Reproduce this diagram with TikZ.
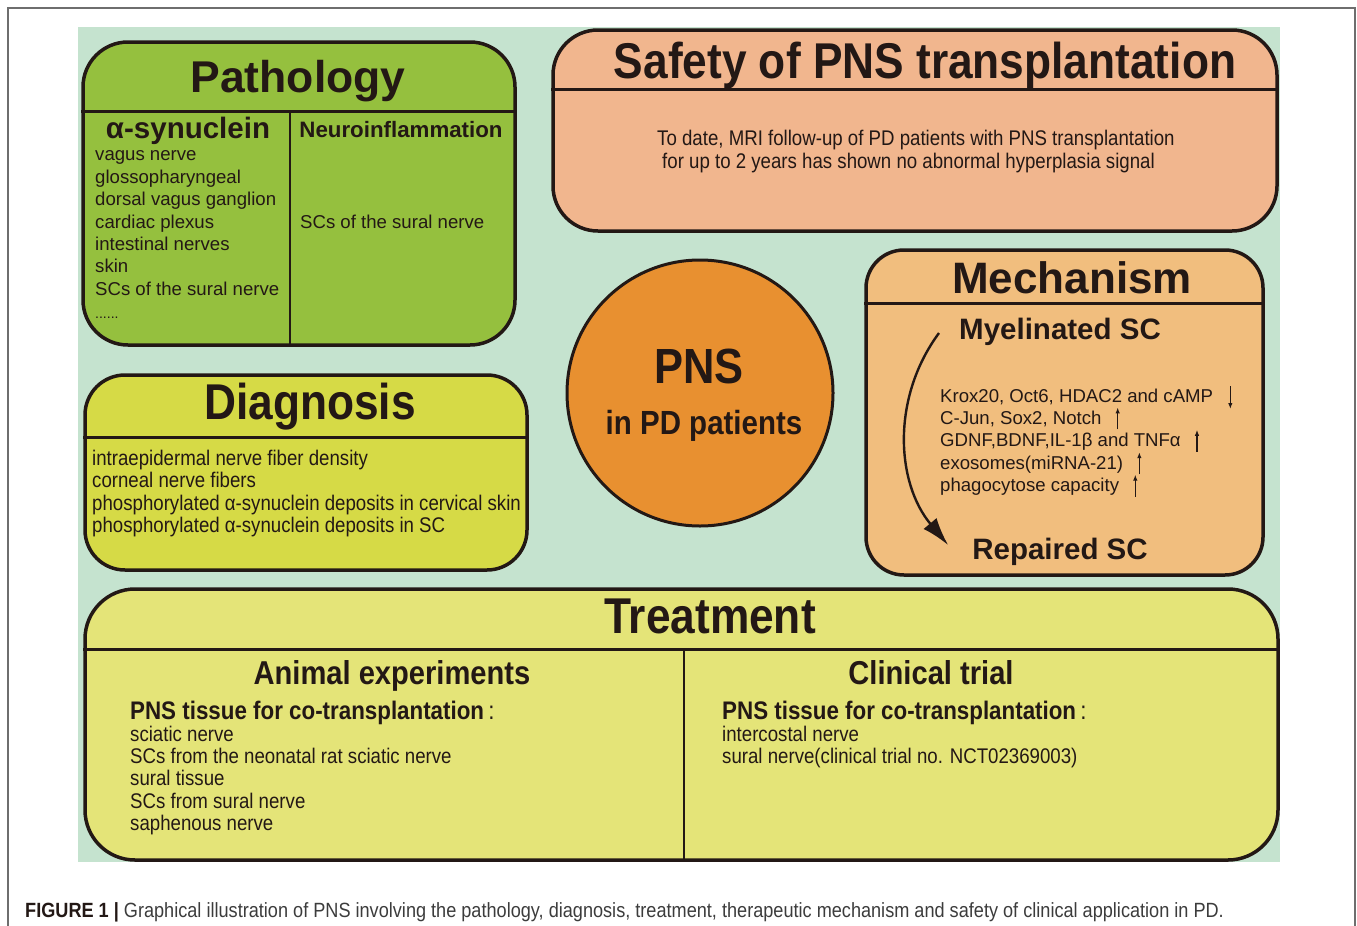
\documentclass[tikz,border=0pt]{standalone}
\usepackage{fontspec}
\setmainfont{Liberation Sans}
\newfontfamily\narrow[FakeStretch=0.88]{Liberation Sans}
\usetikzlibrary{arrows.meta, positioning}

\definecolor{ink}{RGB}{35,24,21}
\definecolor{bgmint}{RGB}{197,227,207}
\definecolor{pathfill}{RGB}{149,192,62}
\definecolor{safefill}{RGB}{241,182,142}
\definecolor{pnsfill}{RGB}{232,144,48}
\definecolor{mechfill}{RGB}{241,190,126}
\definecolor{diagfill}{RGB}{214,218,70}
\definecolor{treatfill}{RGB}{228,228,120}
\definecolor{framegray}{RGB}{110,110,110}
\definecolor{capgray}{RGB}{60,60,60}

\newcommand\fsz[1]{\fontsize{#1}{#1}\selectfont}

\begin{document}
\begin{tikzpicture}[x=1pt, y=-1pt, text=ink, every node/.style={inner sep=0pt},
  panel/.style={draw=ink, line width=3.5pt, rounded corners=#1},
  rule/.style={draw=ink, line width=3pt},
  divider/.style={draw=ink, line width=2.5pt},
  bigtitle/.style={font=\narrow\bfseries\fsz{50.3}, anchor=base},
  wtitle/.style={font=\bfseries\fsz{44.5}, anchor=base},
  subtitle/.style={font=\bfseries\fsz{29.5}, anchor=base},
  ntitle/.style={font=\narrow\bfseries\fsz{33.1}, anchor=base},
  item/.style={font=\fsz{18.6}, anchor=base west},
  nitem/.style={font=\narrow\fsz{21.2}, anchor=base west},
  tick/.style={draw=ink, line width=1.3pt, -{Latex[length=6pt,width=4.5pt]}},
]
\useasboundingbox (0,0) rectangle (1357,926);
\draw[framegray, line width=1.2pt] (8,940) -- (8,8) -- (1355,8) -- (1355,940);
\fill[bgmint] (78,27) rectangle (1280,862);

% pathology
\node[panel=45pt, fill=pathfill, minimum width=432pt, minimum height=303pt] (patho) at (299,193.5) {};
\draw[rule] (patho.west |- 0,111) -- (patho.east |- 0,111);
\draw[divider] (290,111) -- (patho.south -| 290,0);
\node[wtitle] (pathoT) at (298,92) {Pathology};
\node[subtitle] (alpha) at (188,138) {α-synuclein};
\node[font=\bfseries\fsz{22.3}, anchor=base] (neuro) at (401,137) {Neuroinflammation};
\foreach \t [count=\i] in {vagus nerve, glossopharyngeal, dorsal vagus ganglion, cardiac plexus, intestinal nerves, skin, SCs of the sural nerve}
  \node[item] (alpha\i) at (95,{138.5+22.4*\i}) {\t};
\node[item, font=\fsz{14}] (alphaMore) at (95,318) {......};
\node[item] (neuroSC) at (300,228) {SCs of the sural nerve};

% safety
\node[panel=45pt, fill=safefill, minimum width=724pt, minimum height=201pt] (safe) at (915,130.5) {};
\draw[rule] (safe.west |- 0,89) -- (safe.east |- 0,89);
\node[bigtitle] (safeT) at (925,78) {Safety of PNS transplantation};
\node[nitem] (safe1) at (657,145) {To date, MRI follow-up of PD patients with PNS transplantation};
\node[nitem] (safe2) at (662,168) {for up to 2 years has shown no abnormal hyperplasia signal};

% centre
\node[circle, draw=ink, line width=3pt, fill=pnsfill, minimum size=266pt] (pns) at (700,393) {};
\node[font=\narrow\bfseries\fsz{49.4}, anchor=base] (pnsT) at (699,383) {PNS};
\node[font=\narrow\bfseries\fsz{33.5}, anchor=base] (pnsS) at (704,434) {in PD patients};

% mechanism
\node[panel=38pt, fill=mechfill, minimum width=397pt, minimum height=325pt] (mech) at (1064.5,412.5) {};
\draw[rule] (mech.west |- 0,303) -- (mech.east |- 0,303);
\node[wtitle, font=\bfseries\fsz{44}] (mechT) at (1072,293) {Mechanism};
\node[subtitle] (myel) at (1060,339) {Myelinated SC};
\node[subtitle] (rep) at (1060,559) {Repaired SC};
\foreach \t [count=\i] in {{Krox20, Oct6, HDAC2 and cAMP}, {C-Jun, Sox2, Notch}, {GDNF,BDNF,IL-1β and TNFα}, {exosomes(miRNA-21)}, {phagocytose capacity}}
  \node[item] (sig\i) at (940,{379.6+22.4*\i}) {\t};
\draw[tick] ([xshift=17pt,yshift=16pt]sig1.base east) -- ([xshift=17pt,yshift=-7pt]sig1.base east);
\foreach \i in {2,...,5}
  \draw[tick] ([xshift=16pt,yshift=-5pt]sig\i.base east) -- ([xshift=16pt,yshift=17pt]sig\i.base east);
\draw[ink, line width=2.4pt, -{Latex[length=28pt,width=17pt]}] ([xshift=-20pt,yshift=6pt]myel.base west)
  .. controls +(-48,65) and +(-52,-62) .. ([xshift=-24pt,yshift=14pt]rep.base west);

% diagnosis
\node[panel=40pt, fill=diagfill, minimum width=442pt, minimum height=195pt] (diag) at (306,472.5) {};
\draw[rule] (diag.west |- 0,437) -- (diag.east |- 0,437);
\node[bigtitle] (diagT) at (310,419) {Diagnosis};
\foreach \t [count=\i] in {intraepidermal nerve fiber density, corneal nerve fibers, phosphorylated α-synuclein deposits in cervical skin, phosphorylated α-synuclein deposits in SC}
  \node[nitem] (dx\i) at (92,{443.1+22.4*\i}) {\t};

% treatment
\node[panel=50pt, fill=treatfill, minimum width=1193pt, minimum height=271pt] (treat) at (681.5,724.5) {};
\draw[rule] (treat.west |- 0,649) -- (treat.east |- 0,649);
\draw[divider] (684,649) -- (treat.south -| 684,0);
\node[bigtitle] (treatT) at (710,633) {Treatment};
\node[ntitle] (animal) at (392,684) {Animal experiments};
\node[ntitle] (clin) at (931,684) {Clinical trial};
\node[nitem, font=\narrow\bfseries\fsz{25.4}] (animalH) at (130,719) {PNS tissue for co-transplantation\,{\mdseries:}};
\node[nitem, font=\narrow\bfseries\fsz{25.4}] (clinH) at (722,719) {PNS tissue for co-transplantation\,{\mdseries:}};
\foreach \t [count=\i] in {sciatic nerve, SCs from the neonatal rat sciatic nerve, sural tissue, SCs from sural nerve, saphenous nerve}
  \node[nitem] (an\i) at (130,{718.6+22.4*\i}) {\t};
\foreach \t [count=\i] in {intercostal nerve, sural nerve(clinical trial no. NCT02369003)}
  \node[nitem] (cl\i) at (722,{718.6+22.4*\i}) {\t};

% caption
\node[font=\narrow\fsz{20.6}, anchor=base west, text=capgray] (cap) at (25,917)
  {{\bfseries\color{ink}FIGURE 1 |} Graphical illustration of PNS involving the pathology, diagnosis, treatment, therapeutic mechanism and safety of clinical application in PD.};
\end{tikzpicture}
\end{document}
